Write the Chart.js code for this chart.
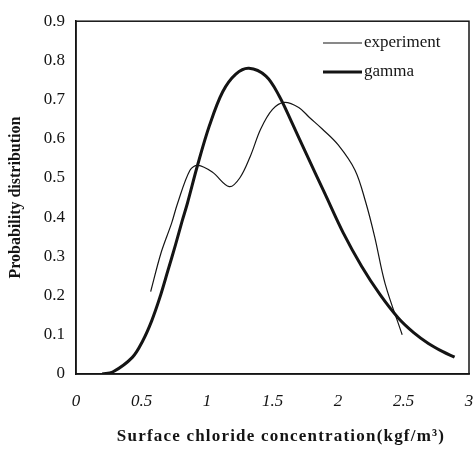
<!DOCTYPE html>
<html>
<head>
<meta charset="utf-8">
<script src="https://cdn.jsdelivr.net/npm/chart.js@4.4.1/dist/chart.umd.min.js"></script>
<style>
  html, body { margin: 0; padding: 0; background: #fff; }
  #wrap { width: 473px; height: 457px; }
</style>
</head>
<body>
<div id="wrap"><canvas id="mainChart" width="473" height="457"></canvas></div>
<script>
// Experiment curve (thin)
const expX = [0.57, 0.65, 0.73, 0.775, 0.87, 0.93, 1.04, 1.17, 1.25, 1.33, 1.41, 1.50, 1.59, 1.70, 1.78, 1.88, 2.0, 2.13, 2.21, 2.28, 2.36, 2.49];
const expY = [0.21, 0.31, 0.385, 0.435, 0.52, 0.532, 0.515, 0.478, 0.50, 0.555, 0.625, 0.675, 0.693, 0.68, 0.655, 0.625, 0.585, 0.52, 0.44, 0.35, 0.23, 0.10];

// Gamma fit (thick)
const gamX = [0.2, 0.28, 0.43, 0.51, 0.577, 0.64, 0.70, 0.76, 0.81, 0.85, 0.93, 1.02, 1.12, 1.22, 1.32, 1.45, 1.55, 1.65, 1.76, 1.9, 2.04, 2.18, 2.32, 2.46, 2.58, 2.69, 2.8, 2.89];
const gamY = [0, 0.005, 0.0425, 0.085, 0.135, 0.195, 0.262, 0.33, 0.39, 0.435, 0.535, 0.635, 0.72, 0.765, 0.78, 0.76, 0.71, 0.64, 0.56, 0.46, 0.36, 0.275, 0.203, 0.143, 0.105, 0.078, 0.057, 0.043];

const xTicks = [0, 0.5, 1, 1.5, 2, 2.5, 3];
const xTickLabels = ['0', '0.5', '1', '1.5', '2', '2.5', '3'];
const yTicks = [0, 0.1, 0.2, 0.3, 0.4, 0.5, 0.6, 0.7, 0.8, 0.9];
const yTickLabels = ['0', '0.1', '0.2', '0.3', '0.4', '0.5', '0.6', '0.7', '0.8', '0.9'];
const xTitle = 'Surface chloride concentration(kgf/m³)';

const serif = "'Liberation Serif', 'Times New Roman', serif";
const ink = '#141414';

// Frame round the plot area, legend top right, spaced-out x title
const framePlugin = {
    id: 'frame',
    afterDraw(chart) {
        const { ctx, chartArea: a } = chart;
        ctx.save();
        ctx.strokeStyle = ink;
        ctx.lineWidth = 1.5;
        ctx.strokeRect(a.left, a.top, a.right - a.left, a.bottom - a.top);

        ctx.font = '17px ' + serif;
        ctx.fillStyle = ink;
        ctx.textBaseline = 'middle';
        chart.data.datasets.forEach((ds, i) => {
            const y = 43 + i * 29;
            ctx.beginPath();
            ctx.lineWidth = ds.borderWidth;
            ctx.moveTo(323, y);
            ctx.lineTo(362, y);
            ctx.stroke();
            ctx.fillText(ds.label, 364, y);
        });

        ctx.font = 'bold 17px ' + serif;
        ctx.letterSpacing = '1.2px';
        ctx.textAlign = 'center';
        ctx.fillText(xTitle, 281, 437);
        ctx.restore();
    }
};

const toPoints = (xs, ys) => xs.map((x, i) => ({ x: x, y: ys[i] }));

const ctx = document.getElementById('mainChart').getContext('2d');
new Chart(ctx, {
    type: 'scatter',
    data: {
        datasets: [{
            label: 'experiment',
            data: toPoints(expX, expY),
            showLine: true,
            borderColor: ink,
            borderWidth: 1.2,
            pointRadius: 0,
            tension: 0.35
        }, {
            label: 'gamma',
            data: toPoints(gamX, gamY),
            showLine: true,
            borderColor: ink,
            borderWidth: 3,
            pointRadius: 0,
            tension: 0.35
        }]
    },
    options: {
        responsive: false,
        animation: false,
        layout: {
            padding: { top: 14, right: 4, left: 0, bottom: 0 }
        },
        plugins: {
            legend: { display: false },
            tooltip: { enabled: false }
        },
        scales: {
            x: {
                type: 'linear',
                min: 0,
                max: 3,
                afterBuildTicks: (scale) => {
                    scale.ticks = xTicks.map(v => ({ value: v }));
                },
                afterFit: (scale) => {
                    scale.height = 83;
                    scale.paddingLeft = 0;
                    scale.paddingRight = 0;
                },
                grid: { display: false, drawTicks: false },
                border: { color: ink, width: 1.5 },
                ticks: {
                    color: ink,
                    padding: 17,
                    maxRotation: 0,
                    font: { size: 17, family: serif, style: 'italic' },
                    callback: (value) => xTickLabels[xTicks.indexOf(value)]
                }
            },
            y: {
                min: 0,
                max: 0.9,
                afterBuildTicks: (scale) => {
                    scale.ticks = yTicks.map(v => ({ value: v }));
                },
                afterFit: (scale) => {
                    scale.width = 76;
                },
                grid: { display: false, drawTicks: false },
                border: { color: ink, width: 1.5 },
                ticks: {
                    color: ink,
                    padding: 11,
                    font: { size: 17, family: serif },
                    callback: (value) => yTickLabels[yTicks.indexOf(value)]
                },
                title: {
                    display: true,
                    text: 'Probability distribution',
                    color: ink,
                    font: { size: 16, family: serif, weight: 'bold' },
                    padding: { top: 6, bottom: 0 }
                }
            }
        }
    },
    plugins: [framePlugin]
});
</script>
</body>
</html>
